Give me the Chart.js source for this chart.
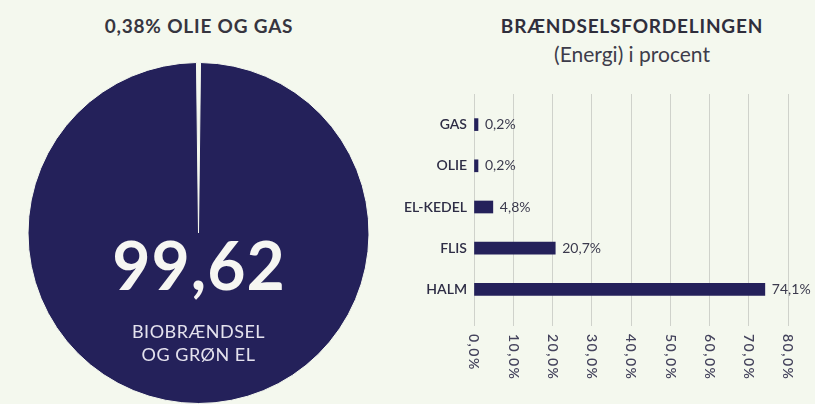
<!DOCTYPE html>
<html>
<head>
<meta charset="utf-8">
<script src="https://cdn.jsdelivr.net/npm/chart.js@4"></script>
<style>
    body { margin: 0; background: #f4f8ee; font-family: 'Lato', sans-serif; }
    #page { position: relative; width: 815px; height: 404px; overflow: hidden; background: #f4f8ee; }
    .title { position: absolute; transform: translate(-50%, -50%); white-space: nowrap; color: #2f2e3c; }
    #pie-title { left: 199px; top: 25px; font-size: 19px; font-weight: 700; letter-spacing: 0.8px; color: #36353f; }
    #bar-title { left: 632px; top: 25px; font-size: 19px; font-weight: 700; letter-spacing: 0.8px; }
    #bar-subtitle { left: 632px; top: 53px; font-size: 21px; color: #3d3c4a; }
    #pie-box { position: absolute; left: 27px; top: 62px; width: 343px; height: 342px; }
    #bar-box { position: absolute; left: 380px; top: 80px; width: 435px; height: 324px; }
</style>
</head>
<body>
<div id="page">
    <div class="title" id="pie-title">0,38% OLIE OG GAS</div>
    <div class="title" id="bar-title">BRÆNDSELSFORDELINGEN</div>
    <div class="title" id="bar-subtitle">(Energi) i procent</div>
    <div id="pie-box"><canvas id="pie-chart"></canvas></div>
    <div id="bar-box"><canvas id="bar-chart"></canvas></div>
</div>
<script>
const pieLabels = ['Olie og gas', 'Biobrændsel og grøn el'];
const pieValues = [0.38, 99.62];
const pieCenterValue = '99,62';
const pieCenterLines = ['BIOBRÆNDSEL', 'OG GRØN EL'];

const fuelLabels = ['GAS', 'OLIE', 'EL-KEDEL', 'FLIS', 'HALM'];
const fuelValues = [0.2, 0.2, 4.8, 20.7, 74.1];
const xMax = 80;
const xStep = 10;

const NAVY = '#24215a';
const BG = '#f4f8ee';

function formatPercent(value) {
    return value.toFixed(1).replace('.', ',') + '%';
}

// big number + caption in the middle of the pie
const pieCenterText = {
    id: 'pieCenterText',
    afterDraw(chart) {
        const arc = chart.getDatasetMeta(0).data[0];
        const ctx = chart.ctx;
        const cx = arc.x;
        const cy = arc.y;
        ctx.save();
        ctx.textAlign = 'center';
        ctx.textBaseline = 'alphabetic';
        ctx.fillStyle = '#f6f6f2';
        ctx.font = '700 66px Lato';
        ctx.letterSpacing = '1px';
        ctx.fillText(pieCenterValue, cx + 0.5, cy + 57);
        ctx.fillStyle = '#e4e2ee';
        ctx.font = '400 18px Lato';
        ctx.letterSpacing = '0.5px';
        ctx.fillText(pieCenterLines[0], cx, cy + 105);
        ctx.fillText(pieCenterLines[1], cx, cy + 128);
        ctx.restore();
    }
};

// value labels right of each bar
const barValueLabels = {
    id: 'barValueLabels',
    afterDatasetsDraw(chart) {
        const ctx = chart.ctx;
        const meta = chart.getDatasetMeta(0);
        ctx.save();
        ctx.font = '400 14px Lato';
        ctx.fillStyle = '#3b3a4d';
        ctx.textAlign = 'left';
        ctx.textBaseline = 'middle';
        meta.data.forEach((bar, i) => {
            ctx.fillText(formatPercent(fuelValues[i]), bar.x + 7, bar.y);
        });
        ctx.restore();
    }
};

// x tick labels, rotated to read top to bottom
const rotatedXTicks = {
    id: 'rotatedXTicks',
    afterDraw(chart) {
        const scale = chart.scales.x;
        const ctx = chart.ctx;
        const y = chart.chartArea.bottom + scale.options.grid.tickLength + 8;
        ctx.save();
        ctx.font = '600 14px Lato';
        ctx.letterSpacing = '1.5px';
        ctx.fillStyle = '#44435c';
        ctx.textAlign = 'left';
        ctx.textBaseline = 'middle';
        scale.ticks.forEach(tick => {
            const x = scale.getPixelForValue(tick.value);
            ctx.save();
            ctx.translate(x, y);
            ctx.rotate(Math.PI / 2);
            ctx.fillText(formatPercent(tick.value), 0, 0);
            ctx.restore();
        });
        ctx.restore();
    }
};

function drawPie() {
    const ctx = document.getElementById('pie-chart').getContext('2d');
    new Chart(ctx, {
        type: 'pie',
        data: {
            labels: pieLabels,
            datasets: [{
                data: pieValues,
                backgroundColor: [BG, NAVY],
                borderColor: BG,
                borderWidth: 1
            }]
        },
        options: {
            responsive: true,
            maintainAspectRatio: false,
            animation: false,
            rotation: -pieValues[0] / 100 * 180,
            plugins: { legend: { display: false }, tooltip: { enabled: false } }
        },
        plugins: [pieCenterText]
    });
}

function drawBars() {
    const ctx = document.getElementById('bar-chart').getContext('2d');
    new Chart(ctx, {
        type: 'bar',
        data: {
            labels: fuelLabels,
            datasets: [{
                data: fuelValues,
                backgroundColor: NAVY,
                barThickness: 12,
                minBarLength: 4
            }]
        },
        options: {
            indexAxis: 'y',
            responsive: true,
            maintainAspectRatio: false,
            animation: false,
            layout: { padding: { top: 14, right: 27, bottom: 78, left: 0 } },
            plugins: { legend: { display: false }, tooltip: { enabled: false } },
            scales: {
                x: {
                    position: 'bottom',
                    min: 0,
                    max: xMax,
                    ticks: { stepSize: xStep, display: false },
                    grid: { color: '#cfd2cb', tickLength: 16, tickColor: '#cfd2cb' },
                    border: { display: false }
                },
                xTop: {
                    axis: 'x',
                    position: 'top',
                    min: 0,
                    max: xMax,
                    ticks: { stepSize: xStep, display: false },
                    grid: { drawOnChartArea: false, color: '#cfd2cb', tickLength: 10 },
                    border: { display: false }
                },
                y: {
                    grid: { display: false, drawTicks: false },
                    border: { display: false },
                    ticks: {
                        color: '#2e2d45',
                        padding: 7,
                        font: { family: 'Lato', size: 14, weight: '600' }
                    },
                    afterFit(scale) { scale.width = 94; }
                }
            }
        },
        plugins: [barValueLabels, rotatedXTicks]
    });
}

document.addEventListener('DOMContentLoaded', () => {
    drawPie();
    drawBars();
});
</script>
</body>
</html>
